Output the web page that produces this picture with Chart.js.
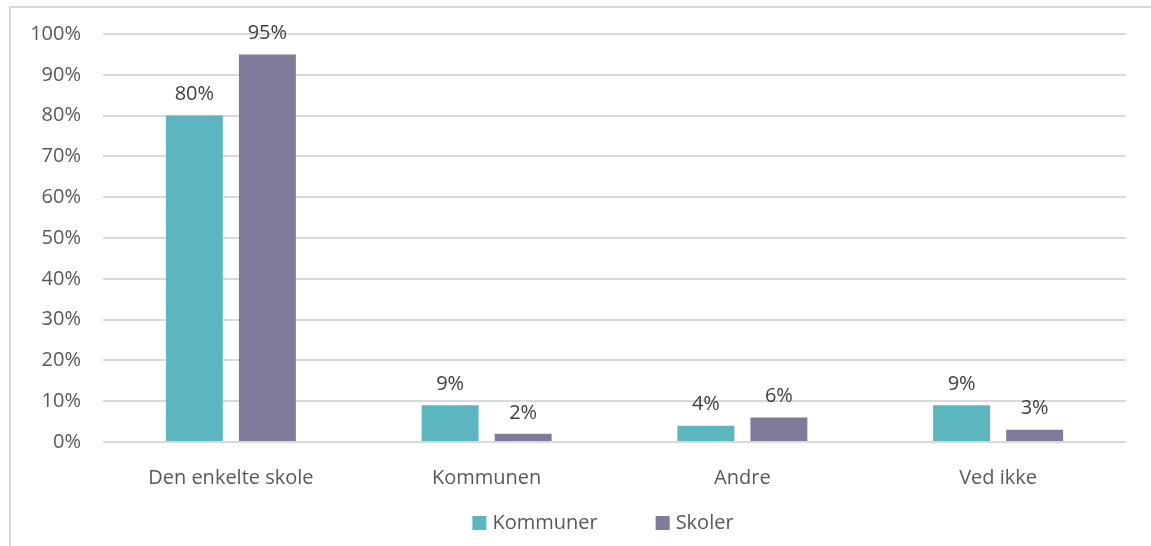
<!DOCTYPE html>
<html>
<head>
<meta charset="utf-8">
<script src="https://cdn.jsdelivr.net/npm/chart.js@4/dist/chart.umd.min.js"></script>
<style>
  html, body { margin: 0; padding: 0; background: #fff; }
  #frame {
    position: absolute; left: 9px; top: 6px; width: 1142px; height: 540px;
    border-left: 2px solid #d9d9d9; border-top: 2px solid #d9d9d9;
  }
  #chart { position: absolute; left: -11px; top: -8px; }
</style>
</head>
<body>
<div id="frame"><canvas id="chart" width="1151" height="546"></canvas></div>
<script>
const categories = ["Den enkelte skole", "Kommunen", "Andre", "Ved ikke"];
const kommuner = [80, 9, 4, 9];
const skoler = [95, 2, 6, 3];
const yTicks = [0, 10, 20, 30, 40, 50, 60, 70, 80, 90, 100];

const FONT = "'Open Sans', sans-serif";
const SIZE = 20;

// Percent labels above each bar.
const valueLabels = {
  id: "valueLabels",
  afterDatasetsDraw(chart) {
    const ctx = chart.ctx;
    ctx.save();
    ctx.font = SIZE + "px " + FONT;
    ctx.fillStyle = "#404040";
    ctx.textAlign = "center";
    ctx.textBaseline = "bottom";
    chart.data.datasets.forEach((ds, i) => {
      chart.getDatasetMeta(i).data.forEach((bar, j) => {
        ctx.fillText(ds.data[j] + "%", bar.x, bar.y - 11);
      });
    });
    ctx.restore();
  },
};

// Excel-like legend: small squares, wide gap between entries.
const bottomLegend = {
  id: "bottomLegend",
  afterDraw(chart) {
    const ctx = chart.ctx;
    ctx.save();
    ctx.font = SIZE + "px " + FONT;
    ctx.textBaseline = "middle";
    const box = 14, gap = 6, spacing = 58;
    const items = chart.data.datasets.map((ds) => ({
      text: ds.label, color: ds.backgroundColor, w: box + gap + ctx.measureText(ds.label).width,
    }));
    const total = items.reduce((s, it) => s + it.w, 0) + spacing * (items.length - 1);
    let x = 603 - total / 2;
    const y = 523;
    items.forEach((it) => {
      ctx.fillStyle = it.color;
      ctx.fillRect(x, y - box / 2, box, box);
      ctx.fillStyle = "#595959";
      ctx.fillText(it.text, x + box + gap, y);
      x += it.w + spacing;
    });
    ctx.restore();
  },
};

new Chart(document.getElementById("chart"), {
  type: "bar",
  data: {
    labels: categories,
    datasets: [
      { label: "Kommuner", data: kommuner, backgroundColor: "#5bb6c0" },
      { label: "Skoler", data: skoler, backgroundColor: "#7f7b9a" },
    ],
  },
  options: {
    responsive: false,
    animation: false,
    datasets: { bar: { categoryPercentage: 0.571, barPercentage: 0.78 } },
    layout: { padding: { top: 26, right: 25, left: 0, bottom: 54 } },
    plugins: {
      tooltip: { enabled: false },
      legend: { display: false },
    },
    scales: {
      x: {
        afterFit: (s) => { s.height = 50; },
        grid: { display: false },
        border: { display: false },
        ticks: { font: { family: FONT, size: SIZE }, color: "#595959", padding: 16 },
      },
      y: {
        min: 0,
        max: 100,
        afterBuildTicks: (s) => { s.ticks = yTicks.map((v) => ({ value: v })); },
        afterFit: (s) => { s.width = 103; },
        grid: { color: "#d9d9d9", lineWidth: 2, drawTicks: false },
        border: { display: false },
        ticks: {
          font: { family: FONT, size: SIZE },
          color: "#595959",
          padding: 22,
          callback: (v) => v + "%",
        },
      },
    },
  },
  plugins: [valueLabels, bottomLegend],
});
</script>
</body>
</html>
